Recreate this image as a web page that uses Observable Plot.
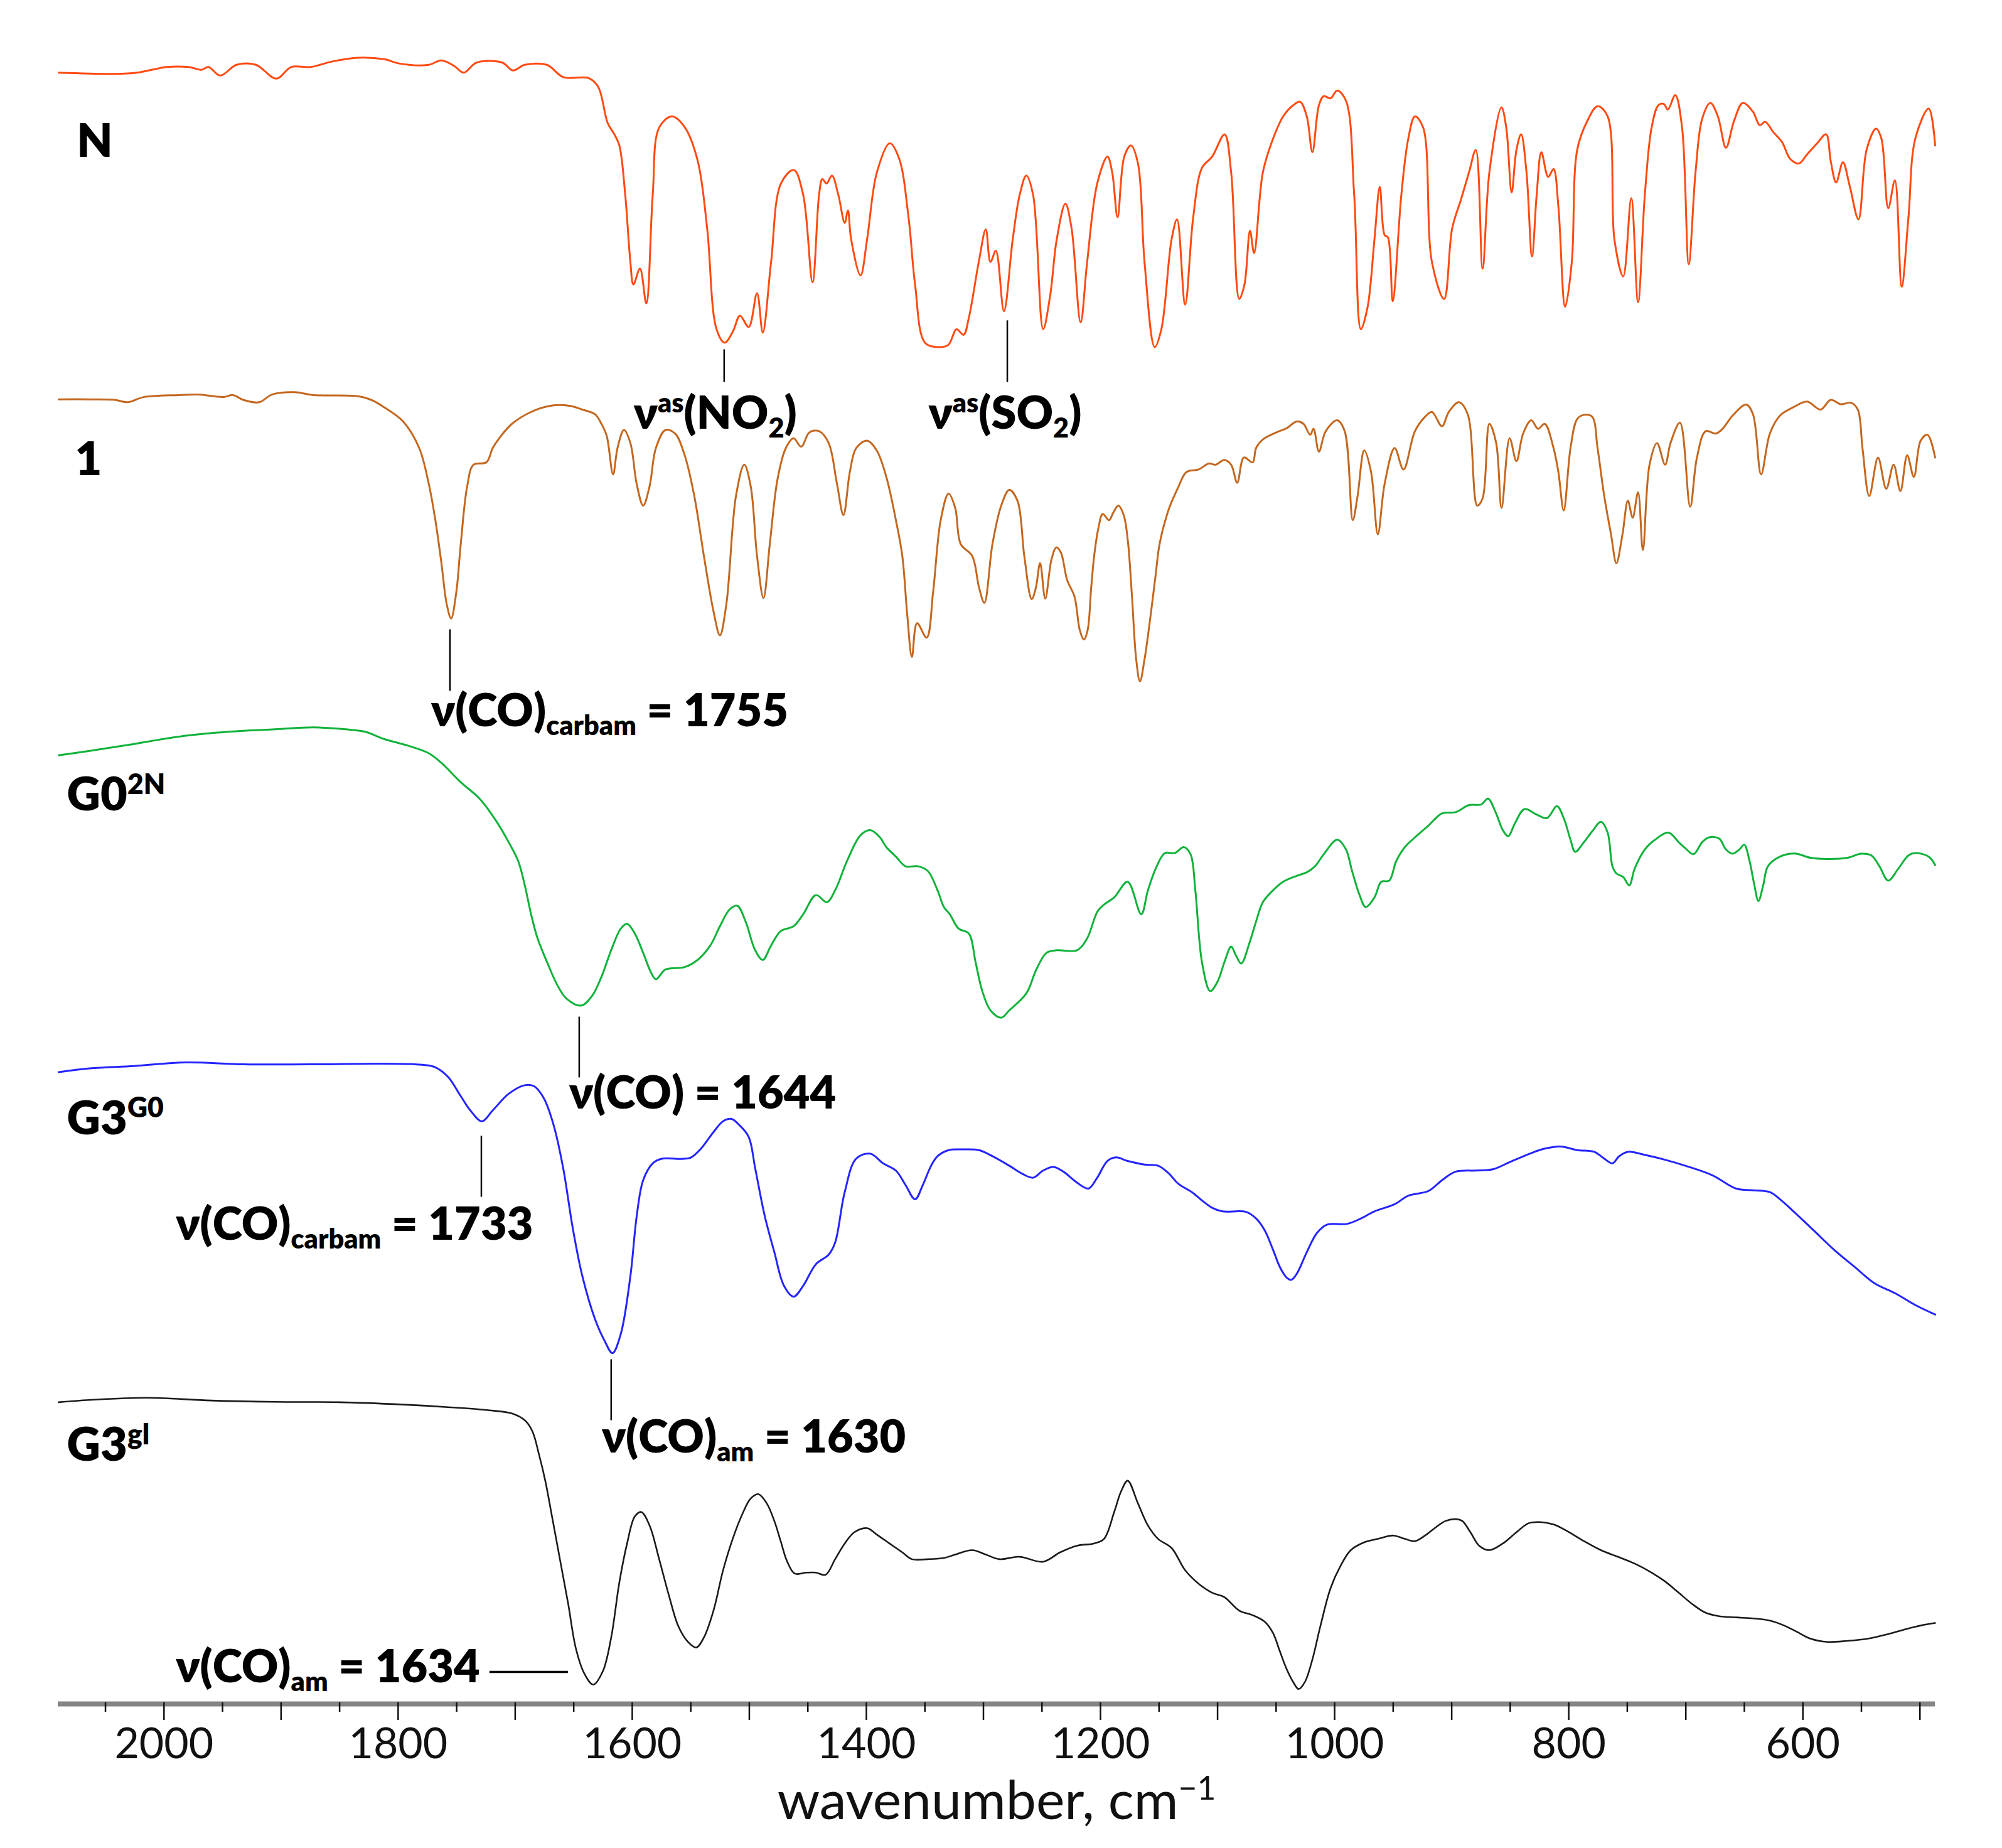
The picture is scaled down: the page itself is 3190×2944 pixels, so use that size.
<!DOCTYPE html>
<html><head><meta charset="utf-8">
<script src="https://cdn.jsdelivr.net/npm/d3@7"></script>
<script src="https://cdn.jsdelivr.net/npm/@observablehq/plot@0.6"></script>
<style>
html,body{margin:0;padding:0;background:#fff;}
#chart{width:3190px;height:2944px;overflow:hidden;}
</style></head><body><div id="chart"></div>
<script>
// ---- data: [wavenumber (cm-1), stacked intensity (a.u.)] ----
const specN = [[2090,957.5],[2042,956.8],[2023,957.5],[1998,960.8],[1979,960.8],[1968,959.2],[1962,960.8],[1952,955.8],[1938,962.1],[1921.5,962.1],[1904,954],[1891.4,960.8],[1875,960.8],[1856,964.1],[1834,966.3],[1812,965.4],[1798.4,962.8],[1774,962.1],[1763,964.7],[1752,961.4],[1744,957.5],[1733,963.4],[1711,963.4],[1702,958.8],[1692,962.1],[1673,962.1],[1659,954.9],[1637,954.2],[1629,949],[1621,927.9],[1615.3,921.3],[1611,914.7],[1606,885.8],[1601.6,846.3],[1599,833.1],[1593.4,842.4],[1588,822],[1582.5,885.8],[1577,925.3],[1566,931.8],[1555,925.3],[1544,905.5],[1536,866],[1528,806.8],[1521,798.9],[1514,805.5],[1508,814.7],[1500.5,808.1],[1493.4,827.9],[1488.5,804.8],[1481.4,846.3],[1473,892.4],[1462,900.3],[1454,885.8],[1446,834.4],[1440.4,885.8],[1437.6,895],[1434,892.4],[1429.4,897],[1424,885.8],[1418.5,869.3],[1415.8,876.6],[1413,859.5],[1405,838.4],[1399.4,859.5],[1391,899],[1380,916],[1372,907],[1364,872.6],[1358.4,833.1],[1350,798.9],[1339,796.3],[1330,797.6],[1323,806.8],[1317,803.5],[1312.5,813.4],[1304,846.3],[1298,865.4],[1294,846.3],[1289.4,852.9],[1282.5,817.4],[1275,859.5],[1269,885.8],[1263.4,897],[1257.6,885.8],[1249,806.8],[1243,826.6],[1237.4,859.5],[1230,880.5],[1224.7,866],[1217,810.8],[1211.4,846.3],[1202.8,892.4],[1194,908.2],[1190,898.9],[1185.4,872.6],[1179.7,908.2],[1174,914.7],[1168,904.2],[1162.4,846.3],[1153.7,796.3],[1148,806.8],[1139.3,859.5],[1134.6,871.3],[1127.7,821.3],[1120.8,872.6],[1113.3,901.6],[1104.6,908.2],[1094,921.3],[1088.4,899],[1081.5,824.6],[1077,833.1],[1072.3,864.7],[1068.8,851.6],[1061.3,899],[1052.6,918.7],[1044,931.8],[1035.3,938.4],[1029.5,940.4],[1023.8,931.8],[1019,910.8],[1013.4,938.4],[1009.3,943.7],[1003.5,942.4],[997.8,947],[990.3,941],[983.3,885.8],[977.6,806.8],[971.8,820],[966,859.5],[961.4,890.4],[957.3,862.1],[954.5,860.8],[950.4,823.3],[943,885.8],[937.1,918.7],[931.4,931.8],[924.4,925.3],[916.9,846.3],[906.5,824.6],[899.6,866],[892,883.1],[885.2,899],[879.4,912.1],[873.6,842.4],[867.8,899],[857.5,937.1],[853.4,925.3],[848.8,887.1],[844.7,912.1],[840.7,921.3],[836.1,899],[831.4,849.6],[827.4,885.8],[823.4,910.8],[817.6,896.3],[813,900.9],[808.9,879.2],[803.1,820],[797.4,846.3],[792.8,912.1],[784.1,929.2],[775.4,937.8],[766.8,931.8],[761,859.5],[753.5,837.8],[746.6,883.8],[740.8,822.6],[735,885.8],[729.2,925.3],[723.4,938.4],[718.8,939.1],[715.4,935.8],[709,944.3],[703.2,925.3],[697.5,845],[691.7,899],[686,930.5],[679,939.7],[672.6,931.8],[665.7,913.4],[658.8,929.2],[651.3,939.7],[642.6,934.5],[636.8,926.6],[632.2,928.6],[625.3,922.6],[617.8,916.7],[610.8,906.8],[603.3,904.2],[596.4,909.5],[587.8,916],[580.2,921.3],[576.2,905.5],[571.6,893],[565.8,904.9],[560,891],[552.5,871.3],[545.6,912.1],[537.5,924.6],[532.9,918.7],[527.1,877.9],[521.4,894.3],[515.6,831.8],[509.8,872.6],[504,918.7],[492.5,936.4],[487,914.7]];

const spec1 = [[2090,765.6],[2064,765.6],[2042,765.3],[2031,763.9],[2017,767],[1987,768.1],[1971,768.4],[1949,767],[1941,768.1],[1932.4,765.3],[1918.7,763.9],[1907.8,768.4],[1888.6,769.8],[1872.3,768.1],[1834,767.4],[1823,765.3],[1812,761],[1795.7,752.6],[1782,737],[1773.8,715.9],[1768.2,694.7],[1763,669.3],[1758.5,645.3],[1754.7,636.9],[1750.3,652.4],[1746.5,680.6],[1741,714.5],[1735.6,727.2],[1724.6,728.6],[1719.2,737],[1713.7,742.7],[1702.8,751.2],[1686.4,758.2],[1670,761.8],[1653.6,761.8],[1642.6,759.6],[1631.7,756.8],[1626.3,751.2],[1621.8,744.1],[1616.4,721.5],[1612.6,737],[1607.1,747.6],[1601.6,739.9],[1596.2,715.9],[1590.7,703.2],[1585.2,714.5],[1579.8,737],[1571.6,747.6],[1563.4,745.5],[1555.2,732.8],[1547,708.8],[1538.8,673.6],[1530.6,641.1],[1525.1,627],[1519.6,645.3],[1511.4,708.8],[1504.3,727.2],[1498.8,714.5],[1493.4,673.6],[1487.9,648.9],[1482.5,680.6],[1475.9,718.7],[1468.8,737],[1462.2,742.7],[1455.7,737.8],[1448.6,746.2],[1440.4,746.9],[1432.2,739.9],[1425.1,715.9],[1419.6,697.6],[1414.1,723],[1408.7,737],[1399.4,741.3],[1391.2,735.6],[1383,720.1],[1374.8,694.7],[1369.3,673.6],[1365,638.3],[1361.1,614.3],[1356.7,634.1],[1348.5,625.6],[1343,652.4],[1336.5,694.7],[1329.8,710.3],[1324.1,701.8],[1319.4,680.6],[1309.6,673.6],[1303.8,655.2],[1299.2,646.1],[1292.3,680.6],[1284.8,703.2],[1277.9,712.4],[1270.9,706],[1265.1,673.6],[1258.8,648.2],[1255.3,654.6],[1251.6,669.4],[1247.2,648.5],[1241.8,671.8],[1237.7,678.6],[1233.8,675.5],[1228.5,659.5],[1222.2,649.7],[1217.7,630],[1214.2,624.5],[1211,630],[1208,654.6],[1205.3,674.3],[1201.7,690.3],[1198.1,698.3],[1192.7,694.6],[1189.2,698.9],[1184.7,703.2],[1180.2,697.6],[1176.7,682.9],[1173.1,649.7],[1169.5,612.8],[1166.3,599.9],[1162.4,612.8],[1157.9,635],[1153.4,659.5],[1149.9,679.2],[1146.3,690.3],[1140.9,702.5],[1133.8,713.6],[1126.7,722.8],[1116.2,724.4],[1107.5,727.9],[1101.7,727.2],[1094.2,730],[1088.4,727.2],[1083.2,716.6],[1077.5,731.4],[1070,728.6],[1067.1,737],[1061.3,742],[1049.7,746.2],[1041.1,748.6],[1032.4,752.6],[1026.6,751.2],[1020.9,744.8],[1018,748.3],[1013.4,734.9],[1007.6,746.9],[997.8,753.3],[991.4,746.9],[984.5,694.7],[980.4,708.8],[974.7,735.6],[968.9,723],[963.1,686.3],[957.3,715.9],[948.7,737],[941.2,724.4],[931.4,746.9],[922.7,755.4],[916.9,758.2],[908.3,749.8],[902.5,758.2],[893.8,763.9],[886.3,756.8],[878.2,703.2],[873.6,707.4],[867.8,751.2],[862,739.9],[857.4,701.8],[850.5,742.7],[844.7,729.3],[839,745.5],[832,753.3],[826.3,748.3],[820.5,751.2],[813,737],[808.9,723],[804.3,700.4],[798.5,737],[792.8,754],[787,756.5],[780,755.4],[775.4,737],[769.7,708.8],[763.9,686.3],[759.3,669.3],[754.1,686.3],[749.5,706],[745.4,696.1],[740.8,711],[736.7,677.1],[731,727.2],[724.6,739.9],[717.7,727.2],[713.1,739.9],[705,751.9],[696.3,702.5],[690.5,731.4],[683,746.9],[674.4,745.5],[668.6,748.3],[660,756.1],[648.4,762.5],[642.6,756.8],[635.7,721.5],[628.2,745.5],[619.5,756.1],[608,761],[596.4,764.3],[584.9,759.6],[576.2,765.3],[567.5,762.7],[558.9,763.6],[553.1,759.6],[549.1,737],[543.3,708.8],[535.8,731.4],[528.8,713.1],[522.5,727.2],[516.7,711.7],[510.9,732.8],[505.2,720.1],[499.4,741.3],[493.6,744.8],[487,731.4]];

const specG0 = [[2090,556.5],[2063.6,559.1],[2030.8,562.6],[1987,567.5],[1943.3,570.4],[1905,571.8],[1872.3,572.9],[1844.9,571.8],[1828.5,570.4],[1812.1,566.1],[1790.3,561.9],[1773.8,557.7],[1763,552],[1746.5,540.7],[1730.1,530.8],[1716.4,518.1],[1705.5,505.4],[1697.3,494.2],[1691.8,480.1],[1686.4,463.1],[1680.9,449],[1672.7,434.9],[1664.5,422.2],[1656.3,413.7],[1643.7,409.5],[1634.4,415.1],[1626.3,426.4],[1618,442],[1609.8,454.7],[1604.4,457.5],[1597.8,451.8],[1590.7,440.5],[1584.2,429.3],[1579.8,425],[1571.6,430.7],[1555.2,432.1],[1544.2,436.3],[1533.3,444.8],[1525.1,456.1],[1516.9,465.9],[1510.3,468.1],[1503.2,458.9],[1495,442],[1488.5,436.3],[1481.4,444.8],[1473.2,453.2],[1462.2,456.1],[1454,463.1],[1443.1,474.4],[1433.8,470.2],[1426.7,477.2],[1415.8,495.6],[1404.8,509.7],[1396.6,512.5],[1388.4,508.3],[1383,502.6],[1374.8,497],[1366.6,491.3],[1355.6,491.3],[1347.4,488.5],[1339.2,477.2],[1333.8,467.4],[1328.7,463.1],[1321.2,454.7],[1312.5,451.8],[1306.7,434.9],[1301,418],[1294,406.7],[1284.8,402.4],[1277.9,406.7],[1263.4,416.6],[1254.8,430.7],[1246.1,440.5],[1237.4,442],[1220.1,442],[1211.4,449],[1202.8,464.5],[1197,468.8],[1188.3,473],[1176.8,482.2],[1165.2,463.1],[1159.5,477.2],[1152,491.3],[1145,499.1],[1136.4,499.1],[1128.9,502.6],[1123.1,498.4],[1119,477.2],[1113.3,434.9],[1106.3,418],[1100,423.6],[1094.2,434.9],[1088.4,444.1],[1084.4,439.1],[1079.8,434.2],[1072.8,446.2],[1067.1,458.9],[1061.3,470.2],[1052.6,477.2],[1044,482.2],[1032.4,485.7],[1023.8,487.8],[1016.8,491.3],[1009.3,498.4],[997.8,506.9],[990.3,501.2],[985.1,488.5],[978.7,474.4],[973.5,467.4],[966,473],[960.2,482.2],[953.3,482.9],[947.5,494.2],[940,502.6],[931.4,508.3],[919.8,515.3],[908.3,522.4],[896.7,523.1],[885.2,527.3],[874.8,527.6],[869,531.1],[862.1,522.4],[856.3,512.5],[851.7,509],[845.9,516.7],[837.8,524.9],[827.4,521.7],[818.7,519.6],[810.1,526.6],[804.3,519.6],[798.5,506.9],[794.5,499.8],[787,505.5],[780,511.8],[772.5,517.4],[766.8,511.1],[762.7,491.3],[759.3,487.1],[753.5,485],[748.3,480.1],[743.7,489.9],[735,501.2],[726.3,506.9],[714.8,511.1],[706.1,505.5],[700.4,501.9],[693.4,498.4],[686,505.5],[680.1,508.3],[671.5,507.6],[665.7,501.2],[660,498.7],[654.2,501.2],[650.1,504],[645.5,494.2],[641.4,480.1],[638,470.9],[633.9,480.1],[629.9,491.3],[619.5,497],[606.8,498.8],[593.5,496.3],[579.1,495.6],[561.8,496.3],[550.2,498.7],[541.5,497.7],[534.6,491.3],[527.1,482.9],[518.5,489.9],[509.8,497.7],[504,499.1],[492.5,497],[487,492]];

const specG3G0 = [[2090,370.4],[2063.6,372.6],[2025.3,374],[1981.6,376.1],[1932.4,375],[1866.8,375],[1817.6,375.4],[1779.3,374.7],[1768.4,373.3],[1757.4,367.6],[1746.5,356.3],[1738.3,347.9],[1728.5,341.5],[1719.2,347.9],[1705.5,357.7],[1691.8,362.7],[1683.6,362],[1675.4,354.9],[1667.2,339.4],[1659,314],[1650.8,278.7],[1642.6,250.5],[1631.7,225.1],[1623.5,212.4],[1616.9,205.3],[1609.8,216.6],[1601.6,250.5],[1596.2,285.8],[1590.7,306.9],[1582.5,316.8],[1574.3,319.6],[1557.9,319.4],[1549.7,320.3],[1541.5,325.3],[1530.6,335.2],[1522.4,341.5],[1515.3,342.9],[1508.7,339.4],[1500.5,332.3],[1495,314],[1486.8,285.8],[1478.6,264.6],[1470.4,244.9],[1462.2,238.5],[1454,244.9],[1443.1,257.6],[1432.2,263.2],[1426.7,270.3],[1418.5,299.9],[1408.7,319.6],[1396.6,322.5],[1385.7,316.8],[1374.8,312.6],[1366.6,304.1],[1358.4,295.7],[1351.8,304.1],[1344.7,315.4],[1339.2,321],[1329.8,324.6],[1318.3,325],[1303.8,324.6],[1292.3,321],[1277.9,315.4],[1266.3,310.5],[1257.6,308.4],[1249,312.6],[1240.3,314.7],[1231.6,311.9],[1220.1,305.5],[1210.3,302],[1202.8,308.4],[1194.1,318.2],[1186.6,320.3],[1176.8,318.2],[1162.4,316.1],[1150.8,315.4],[1142.1,311.2],[1133.5,304.8],[1121.9,299.9],[1113.3,295],[1104.6,290.7],[1095.9,288.6],[1075.7,288.3],[1067.1,284.4],[1059.6,277.3],[1052.6,266],[1046.9,256.1],[1041.1,249.8],[1037,248.4],[1032.4,251.9],[1023.8,264.6],[1015.1,275.9],[1006.4,280.8],[989.1,281.3],[977.6,284.4],[966,288.6],[948.7,292.8],[937.1,297.8],[919.8,300.6],[908.3,306.9],[896.7,311.9],[879.4,312.6],[864.9,313.3],[850.5,317.5],[833.2,322.5],[821.6,325.3],[807.2,326.7],[792.8,324.6],[778.3,323.6],[769.7,319.6],[762.7,316.8],[757,321],[749.4,323.6],[735,321.8],[717.7,318.9],[700.4,315.4],[677.3,309.8],[657,302],[642.6,301],[628.2,299.9],[619.5,295.7],[608,288.6],[590.6,277.3],[573.3,266],[556,256.1],[538.7,246.3],[521.4,240.6],[504,233.6],[487,228]];

const specG3gl = [[2090,176.5],[2063.6,177.8],[2014.4,179.1],[1959.7,177.5],[1905.1,176.7],[1850.4,176.5],[1795.7,175.1],[1757.4,173.6],[1724.6,171.9],[1702.8,169.9],[1691.8,165.9],[1685.3,159.4],[1679.8,146.2],[1674.3,130.4],[1668.9,110.7],[1661.8,84.3],[1654.7,58],[1648.1,31.7],[1641,17.2],[1633.3,10.6],[1625.1,18.5],[1618,38.3],[1610.9,71.2],[1604.4,93.5],[1597.8,109.4],[1592.3,112],[1585.2,104.1],[1577,84.3],[1568.8,63.3],[1560.6,44.9],[1552.4,35.7],[1545.3,32.4],[1538.8,38.3],[1530.6,54.1],[1522.4,77.8],[1514.2,96.2],[1506,110.7],[1498.9,119.9],[1492.3,122.5],[1485.2,117.2],[1478.6,106.7],[1473.2,94.9],[1467.7,83],[1461.1,75.8],[1451.3,76.4],[1443.1,76.4],[1434.9,75.1],[1426.7,84.3],[1418.5,93.5],[1410.3,100.1],[1399.4,102.5],[1391.2,98.8],[1380.2,93.5],[1369.3,88.3],[1361.1,84.3],[1347.4,84.3],[1333.8,85],[1324.1,87],[1309.6,89.6],[1298,87],[1286.5,84.3],[1269.2,85.7],[1249,82.8],[1234.5,88.3],[1220.1,92.2],[1205.7,93.5],[1197,96.2],[1188.3,112],[1182.6,123.8],[1176.8,130.4],[1168.1,117.2],[1159.5,104.1],[1150.8,96.2],[1139.3,90.9],[1127.7,77.8],[1116.2,69.9],[1104.6,64.6],[1094.2,62],[1081.5,54.1],[1070,51.4],[1059.6,47.5],[1052.6,40.9],[1046.9,30.4],[1041.1,19.9],[1035.3,12],[1030.7,8],[1025.5,12],[1019.1,25.1],[1012.2,44.9],[1003.5,67.2],[994.9,80.4],[986.2,89.6],[974.7,94.2],[963.1,96.2],[949.8,98.2],[940,96.2],[931.4,94.9],[922.7,98.2],[914,102.8],[905.4,106.7],[896.7,107.8],[890.9,106.7],[884,100.1],[876.5,92.2],[867.8,89.6],[856.3,93.5],[844.7,100.1],[834.3,105.4],[824.5,106.1],[813,104.7],[801.4,100.8],[787,94.9],[772.5,89.6],[758.1,85.7],[743.7,81.7],[729.2,76.4],[717.7,71.2],[706.1,64.6],[694.6,58],[683,52.8],[671.5,50.8],[657,50.1],[642.6,49.5],[628.2,48.2],[616.6,45.5],[605.1,41.6],[593.5,37.6],[579.1,35.7],[561.8,36.3],[544.5,37.6],[527.1,40.3],[509.8,43.6],[498.2,45.5],[487,46.8]];

const seriesData   = [specN, spec1, specG0, specG3G0, specG3gl];
const seriesColors = ["#FF4A12", "#C4671F", "#10B23A", "#2424FF", "#1A1A1A"];
const seriesWidths = [3, 3, 3, 3, 2.6];

// series labels (position in wavenumber / intensity units)
const seriesLabels = [
  {t: "N",       w: 2074.5, v: 908},
  {t: "1",       w: 2076,   v: 720.9},
  {t: "G0^{2N}", w: 2083,   v: 524},
  {t: "G3^{G0}", w: 2083,   v: 334},
  {t: "G3^{gl}", w: 2083,   v: 142}
];

// band annotations
const annotations = [
  {t: "ν^{as}(NO_{2})",          w: 1598.7, v: 748.5},
  {t: "ν^{as}(SO_{2})",          w: 1346.9, v: 748.5},
  {t: "ν(CO)_{carbam} = 1755",   w: 1771.8, v: 573.7},
  {t: "ν(CO) = 1644",            w: 1653.9, v: 349},
  {t: "ν(CO)_{carbam} = 1733",   w: 1989.8, v: 272},
  {t: "ν(CO)_{am} = 1630",       w: 1626,   v: 147},
  {t: "ν(CO)_{am} = 1634",       w: 1989.8, v: 12}
];
const leaders = [
  {w1: 1521.5, v1: 795,   w2: 1521.5, v2: 775.8},
  {w1: 1279.6, v1: 812,   w2: 1279.6, v2: 775.8},
  {w1: 1755.7, v1: 630.5, w2: 1755.7, v2: 594.4},
  {w1: 1645.3, v1: 403,   w2: 1645.3, v2: 367.3},
  {w1: 1728.9, v1: 333,   w2: 1728.9, v2: 297.2},
  {w1: 1618,   v1: 201.7, w2: 1618,   v2: 165.9}
];
const hLeaders = [{w1: 1722, v1: 18.1, w2: 1655, v2: 18.1}];

// axis ticks
const minorTicks = [550, 650, 750, 850, 950, 1050, 1150, 1250, 1350, 1450, 1550, 1650, 1750, 1850, 1950, 2050];
const majorTicks = [500, 600, 700, 800, 900, 1000, 1100, 1200, 1300, 1400, 1500, 1600, 1700, 1800, 1900, 2000];
const labelTicks = [600, 800, 1000, 1200, 1400, 1600, 1800, 2000];
const axisTitle = "wavenumber, cm^{−1}";

const plot = Plot.plot({
  width: 3190, height: 2944,
  marginLeft: 92, marginRight: 107, marginTop: 0, marginBottom: 232,
  style: {fontFamily: "Lato, 'Open Sans', sans-serif", background: "#ffffff", color: "#111"},
  x: {domain: [2090.5, 487], label: null},
  y: {domain: [0, 1000], axis: null, label: null},
  marks: [
    ...seriesData.map((s, i) => Plot.line(s, {x: d => d[0], y: d => d[1], stroke: seriesColors[i], strokeWidth: seriesWidths[i], curve: "catmull-rom"})),
    Plot.ruleY([0], {stroke: "#858585", strokeWidth: 8, dy: 2}),
    Plot.axisX({ticks: minorTicks, tickSize: 15, tickFormat: () => "", strokeWidth: 2.5, color: "#111", label: null}),
    Plot.axisX({ticks: majorTicks, tickSize: 28, tickFormat: () => "", strokeWidth: 2.5, color: "#111", label: null}),
    Plot.axisX({ticks: labelTicks, tickSize: 0, tickPadding: 40, fontSize: 68, tickFormat: d => String(d), color: "#111", label: null}),
    Plot.text([axisTitle], {frameAnchor: "bottom", dy: 185, lineAnchor: "bottom", fontSize: 86, fill: "#111"}),
    Plot.link(leaders, {x1: "w1", y1: "v1", x2: "w2", y2: "v2", stroke: "#000", strokeWidth: 2.5}),
    Plot.link(hLeaders, {x1: "w1", y1: "v1", x2: "w2", y2: "v2", stroke: "#000", strokeWidth: 3.5}),
    Plot.text(seriesLabels, {x: "w", y: "v", text: "t", textAnchor: "start", lineAnchor: "bottom", fontSize: 74, fontWeight: 800, fill: "#000"}),
    Plot.text(annotations, {x: "w", y: "v", text: "t", textAnchor: "start", lineAnchor: "bottom", fontSize: 72, fontWeight: 800, fill: "#000"})
  ]
});
document.getElementById("chart").appendChild(plot);

// rich text: ^{...} superscript, _{...} subscript
const NS = "http://www.w3.org/2000/svg";
plot.querySelectorAll("text").forEach(el => {
  const s = el.textContent;
  if (!/[\^_]\{/.test(s)) return;
  const fs = parseFloat(getComputedStyle(el).fontSize) || 70;
  const parts = [];
  const re = /([\^_])\{([^}]*)\}/g;
  let last = 0, m;
  while ((m = re.exec(s))) {
    if (m.index > last) parts.push({t: s.slice(last, m.index), mode: 0});
    parts.push({t: m[2], mode: m[1] === "^" ? 1 : -1});
    last = re.lastIndex;
  }
  if (last < s.length) parts.push({t: s.slice(last), mode: 0});
  el.textContent = "";
  let cur = 0;
  for (const p of parts) {
    const ts = document.createElementNS(NS, "tspan");
    const target = p.mode === 1 ? -0.36 * fs : p.mode === -1 ? 0.2 * fs : 0;
    ts.setAttribute("dy", (target - cur).toFixed(2));
    cur = target;
    if (p.mode) ts.setAttribute("font-size", (0.6 * fs).toFixed(1));
    ts.textContent = p.t;
    el.appendChild(ts);
  }
});
</script>
</body></html>
